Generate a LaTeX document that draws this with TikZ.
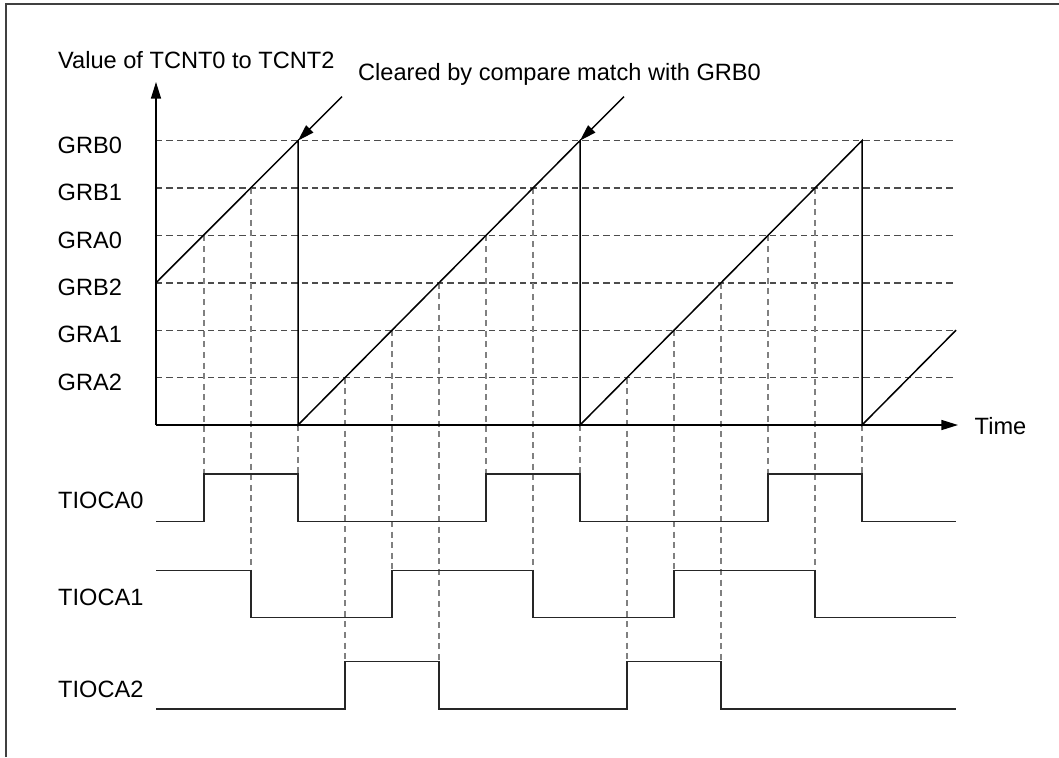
\documentclass[tikz,border=0pt]{standalone}
\usepackage{fontspec}
\setmainfont{Liberation Sans}
\usepackage{xcolor}
\usepackage{tikz}
\usetikzlibrary{
  arrows.meta
}

\tikzset{
  levelline/.style={draw=black!70, dash pattern=on 3.2pt off 2pt, line width=0.7pt},
  edgeline/.style={draw=black!50, dash pattern=on 3pt off 2.3pt, line width=0.7pt},
  wave/.style={draw=black!85, line width=0.75pt},
  txt/.style={anchor=base west, inner sep=0pt}
}

\begin{document}
\begin{tikzpicture}[x=0.5pt, y=-0.5pt, font=\fontsize{11.8}{14}\selectfont, line width=0.7pt]
  \useasboundingbox (0,0) rectangle (1059,757);
  % frame
  \draw[draw=black!75, line width=1pt] (6,757) -- (6,4) -- (1059,4);

  % register levels
  \foreach \reg/\k in {GRB0/6, GRB1/5, GRA0/4, GRB2/3, GRA1/2, GRA2/1} {
    \draw[levelline] (156,{425-47.4*\k}) -- (956,{425-47.4*\k});
    \node[txt] (lbl-\reg) at (57,{437.6-47.4*\k}) {\reg};
  }

  % edges of the outputs
  \foreach \xx/\ytop/\ybot in {204/235.4/474, 251/188/570.7, 298/425/474,
      345/377.6/661.7, 392/330.2/570.7, 439/282.8/661.7, 486/235.4/474, 533/188/570.7, 580/425/474,
      627/377.6/661.7, 674/330.2/570.7, 721/282.8/661.7, 768/235.4/474, 815/188/570.7, 862/425/474}
    \draw[edgeline] (\xx,\ytop) -- (\xx,\ybot);

  % axes
  \coordinate (origin) at (156,425);
  \coordinate (ytop) at (156,82);
  \coordinate (xend) at (958,425);
  \draw[-{Triangle[length=8.3pt, width=5pt]}] (origin) -- (ytop);
  \draw[-{Triangle[length=8.3pt, width=5pt]}] (origin) -- (xend);
  \node[txt] (ylabel) at (57.5,68.3) {Value of TCNT0 to TCNT2};
  \node[txt] (timelabel) at (974,434) {Time};

  % counter
  \coordinate (peak1) at (298,140.6);
  \coordinate (peak2) at (580,140.6);
  \draw[line width=0.75pt] (156,282.8) -- (peak1) -- (298,425) -- (peak2) -- (580,425)
    -- (862,140.6) -- (862,425) -- (956,330.2);

  % clear note
  \node[txt] (clearnote) at (357.5,80) {Cleared by compare match with GRB0};
  \coordinate (clearA) at (342,96.6);
  \coordinate (clearB) at (624,96.6);
  \draw[-{Triangle[length=8.3pt, width=5pt]}] (clearA) -- (peak1);
  \draw[-{Triangle[length=8.3pt, width=5pt]}] (clearB) -- (peak2);

  % outputs
  \node[txt] (tioca0) at (57.5,508.5) {TIOCA0};
  \node[txt] (tioca1) at (57.5,605.5) {TIOCA1};
  \node[txt] (tioca2) at (57.5,697) {TIOCA2};
  \draw[wave] (156,521.7) -| (204,474) -| (298,521.7) -| (486,474) -| (580,521.7)
    -| (768,474) -| (862,521.7) -- (956,521.7);
  \draw[wave] (156,570.7) -| (251,617.7) -| (392,570.7) -| (533,617.7) -| (674,570.7)
    -| (815,617.7) -- (956,617.7);
  \draw[wave] (156,709) -| (345,661.7) -| (439,709) -| (627,661.7) -| (721,709) -- (956,709);
\end{tikzpicture}
\end{document}
